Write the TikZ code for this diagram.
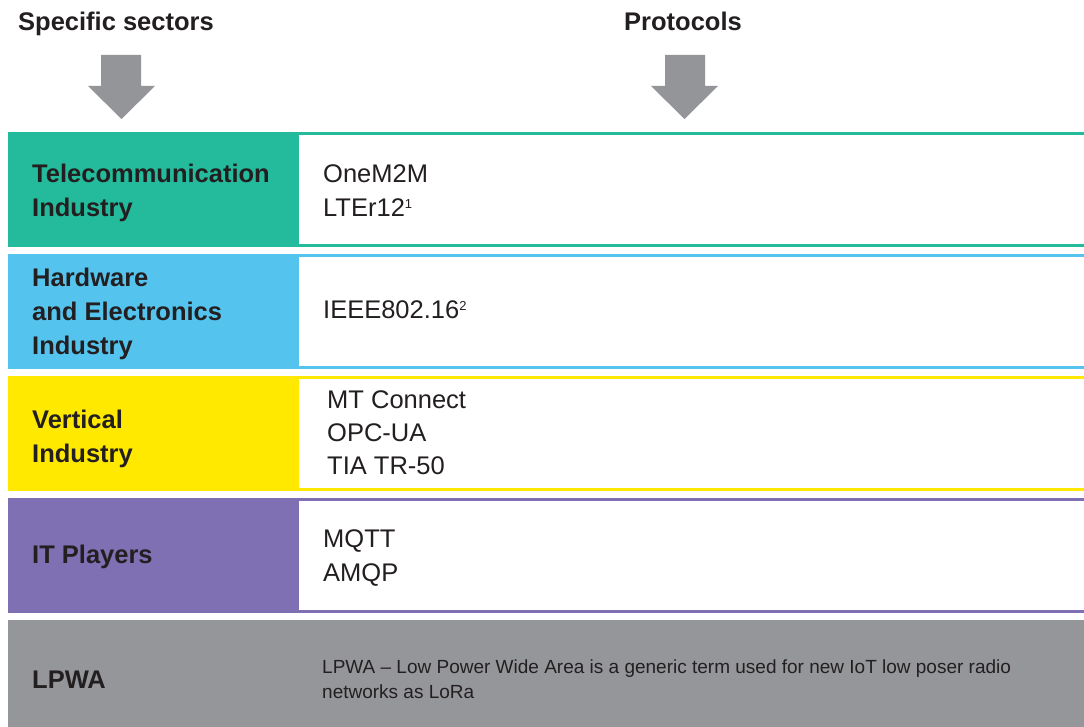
\documentclass[tikz,border=0pt]{standalone}
\usepackage{fontspec}
\setmainfont{Liberation Sans}
\definecolor{cTeal}{HTML}{23BB9B}
\definecolor{cBlue}{HTML}{54C4EF}
\definecolor{cYellow}{HTML}{FFE900}
\definecolor{cPurple}{HTML}{7F70B4}
\definecolor{cGray}{HTML}{95969A}
\definecolor{cArrow}{HTML}{939598}
\definecolor{ink}{HTML}{231F20}
\newcommand\supnum[1]{\raisebox{8pt}{\fontsize{13}{13}\selectfont #1}}
\begin{document}
\begin{tikzpicture}[x=1pt,y=-1pt,
  title/.style={anchor=base west, inner sep=0pt, text=ink, font=\bfseries\fontsize{25.5}{34}\selectfont},
  lab/.style={anchor=base west, inner sep=0pt, text=ink, font=\bfseries\fontsize{25.5}{34}\selectfont},
  prot/.style={anchor=base west, inner sep=0pt, text=ink, font=\fontsize{25.5}{34}\selectfont},
  desc/.style={anchor=base west, inner sep=0pt, text=ink, font=\fontsize{19}{25}\selectfont},
  downarrow/.style={fill=cArrow}
]
\useasboundingbox (0,0) rectangle (1084,727);
\fill[white] (0,0) rectangle (1084,727);

% titles
\node[title] (tSect) at (18,31) {Specific sectors};
\node[title] (tProt) at (624,31) {Protocols};

% arrows
\fill[downarrow] (101,55) -- (141,55) -- (141,86) -- (155,86) -- (121.5,119) -- (88,86) -- (101,86) -- cycle;
\fill[downarrow] (665,55) -- (705,55) -- (705,86) -- (718,86) -- (684.5,119) -- (651,86) -- (665,86) -- cycle;

% row backgrounds
\fill[cTeal] (8,132) rectangle (1084,247);
\fill[white] (299,135) rectangle (1084,244);
\fill[cBlue] (8,254) rectangle (1084,369);
\fill[white] (299,257) rectangle (1084,366);
\fill[cYellow] (8,376) rectangle (1084,491);
\fill[white] (299,379) rectangle (1084,488);
\fill[cPurple] (8,498) rectangle (1084,613);
\fill[white] (299,501) rectangle (1084,610);
\fill[cGray] (8,620) rectangle (1084,727);

% sector labels
\node[lab] (l1) at (32,183) {\vtop{\hbox{Telecommunication}\hbox{Industry}}};
\node[lab] (l2) at (32,287) {\vtop{\hbox{Hardware}\hbox{and Electronics}\hbox{Industry}}};
\node[lab] (l3) at (32,428) {\vtop{\hbox{Vertical}\hbox{Industry}}};
\node[lab] (l4) at (32,563) {IT Players};
\node[lab] (l5) at (32,688) {LPWA};

% protocols
\node[prot] (p1) at (323,183) {\vtop{\hbox{OneM2M}\hbox{LTEr12\supnum{1}}}};
\node[prot] (p2) at (323,319) {IEEE802.16\supnum{2}};
\node[prot, font=\fontsize{25.5}{33}\selectfont] (p3) at (327,408) {\vtop{\hbox{MT Connect}\hbox{OPC-UA}\hbox{TIA TR-50}}};
\node[prot] (p4) at (323,547) {\vtop{\hbox{MQTT}\hbox{AMQP}}};
\node[desc] (p5) at (322,673) {\vtop{\hbox{LPWA – Low Power Wide Area is a generic term used for new IoT low poser radio}\hbox{networks as LoRa}}};
\end{tikzpicture}
\end{document}
